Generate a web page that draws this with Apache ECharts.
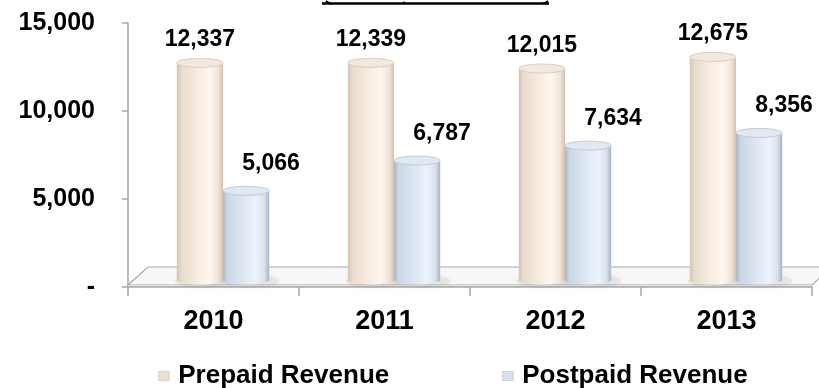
<!DOCTYPE html>
<html>
<head>
<meta charset="utf-8">
<script src="https://cdn.jsdelivr.net/npm/echarts@6/dist/echarts.min.js"></script>
<style>
  html, body { margin: 0; padding: 0; background: #ffffff; }
  #chart { width: 819px; height: 388px; }
</style>
</head>
<body>
<div id="chart"></div>
<script>
// Revenue by year, prepaid vs postpaid
const categories = ['2010', '2011', '2012', '2013'];
const prepaidRevenue = [12337, 12339, 12015, 12675];
const postpaidRevenue = [5066, 6787, 7634, 8356];
const seriesNames = ['Prepaid Revenue', 'Postpaid Revenue'];
const yMax = 15000;
const yStep = 5000;

const FONT = '"Liberation Sans", Arial, sans-serif';
// Plot area
const GRID = { left: 128, right: 7, top: 23, bottom: 101 };
// Perspective offset of the bars (they stand mid-way into the floor)
const DEPTH_X = 9.5;
const DEPTH_Y = -7;

const palettes = [
  { // prepaid: warm cream cylinders
    body: [[0, '#d6c3b2'], [0.1, '#eadbcc'], [0.45, '#f7ece1'], [0.72, '#fdf7f0'], [0.9, '#efe3d6'], [1, '#d2c1b1']],
    cap: '#f3e8de', capEdge: '#dccfc2', legend: '#ecdfd1'
  },
  { // postpaid: pale blue cylinders
    body: [[0, '#a9b7c7'], [0.1, '#cbd7e5'], [0.45, '#dde7f3'], [0.72, '#edf3fa'], [0.9, '#d7e1ec'], [1, '#a8b4c3']],
    cap: '#e0e8f1', capEdge: '#c0ccd8', legend: '#d7e1ec'
  }
];
// label offsets relative to the cylinder top [dx, dy]
const labelOffsets = [[0, -23], [25, -27]];

function fmt(v) {
  return v === 0 ? '-' : v.toLocaleString('en-US');
}

function renderCylinder(params, api) {
  const s = params.seriesIndex;
  const idx = api.value(0);
  const val = api.value(1);
  const top = api.coord([idx, val]);
  const base = api.coord([idx, 0]);
  const band = api.size([1, 0])[0];
  const w = band * 0.27;
  const side = s === 0 ? -0.5 : 0.5;
  const cx = top[0] + DEPTH_X + side * w;
  const x0 = cx - w / 2;
  const x1 = cx + w / 2;
  const yT = top[1] + DEPTH_Y;
  const yB = base[1] + DEPTH_Y;
  const rx = w / 2;
  const ry = 4.5;
  const pal = palettes[s];
  const body = 'M' + x0 + ' ' + yT + ' L' + x0 + ' ' + yB +
    ' A' + rx + ' ' + ry + ' 0 0 0 ' + x1 + ' ' + yB +
    ' L' + x1 + ' ' + yT + ' Z';
  const off = labelOffsets[s];
  return {
    type: 'group',
    children: [
      {
        type: 'ellipse',
        z2: -10,
        shape: { cx: cx + 4, cy: yB + 1, rx: rx + 6, ry: ry + 2.5 },
        style: { fill: 'rgba(160,160,160,0.16)', shadowBlur: 7, shadowColor: 'rgba(130,130,130,0.35)' }
      },
      {
        type: 'path',
        shape: { pathData: body },
        style: {
          fill: new echarts.graphic.LinearGradient(0, 0, 1, 0,
            pal.body.map(function (p) { return { offset: p[0], color: p[1] }; })),
          stroke: null
        }
      },
      {
        type: 'ellipse',
        shape: { cx: cx, cy: yT, rx: rx, ry: ry },
        style: { fill: pal.cap, stroke: pal.capEdge, lineWidth: 1 }
      },
      {
        type: 'text',
        z2: 20,
        style: {
          text: fmt(val),
          x: cx + off[0],
          y: yT + off[1],
          align: 'center',
          verticalAlign: 'middle',
          font: 'bold 23px ' + FONT,
          fill: '#000000'
        }
      }
    ]
  };
}

const chart = echarts.init(document.getElementById('chart'), null, { renderer: 'canvas' });

const W = 819;
const floorL = GRID.left;
const floorR = W - GRID.right;
const floorFront = 388 - GRID.bottom;

const legendBase = {
  orient: 'horizontal',
  top: 358,
  itemWidth: 11,
  itemHeight: 9,
  icon: 'rect',
  selectedMode: false,
  textStyle: { fontFamily: FONT, fontWeight: 'bold', fontSize: 26, color: '#000', padding: [0, 0, 0, 4] }
};

chart.setOption({
  animation: false,
  backgroundColor: '#ffffff',
  grid: { left: GRID.left, right: GRID.right, top: GRID.top, bottom: GRID.bottom, containLabel: false },
  legend: [
    Object.assign({}, legendBase, {
      left: 153,
      data: [{ name: seriesNames[0], itemStyle: { color: palettes[0].legend, borderColor: '#c9b7a6', borderWidth: 0.5 } }]
    }),
    Object.assign({}, legendBase, {
      left: 497,
      data: [{ name: seriesNames[1], itemStyle: { color: palettes[1].legend, borderColor: '#a9b6c5', borderWidth: 0.5 } }]
    })
  ],
  xAxis: {
    type: 'category',
    data: categories,
    boundaryGap: true,
    axisLine: { show: true, lineStyle: { color: '#a6a6a6', width: 1.5 } },
    axisTick: { show: true, length: 9, alignWithLabel: false, lineStyle: { color: '#a6a6a6', width: 1.5 } },
    axisLabel: { fontFamily: FONT, fontWeight: 'bold', fontSize: 27, color: '#000', margin: 21 },
    splitLine: { show: false },
    z: 3
  },
  yAxis: {
    type: 'value',
    min: 0,
    max: yMax,
    interval: yStep,
    axisLine: { show: true, lineStyle: { color: '#a6a6a6', width: 1.5 } },
    axisTick: { show: true, length: 6, lineStyle: { color: '#a6a6a6', width: 1.5 } },
    axisLabel: { fontFamily: FONT, fontWeight: 'bold', fontSize: 25, color: '#000', margin: 33, formatter: fmt },
    splitLine: { show: false }
  },
  graphic: [
    // floor slab: top face, then front face
    {
      type: 'polygon', z: 1,
      shape: { points: [[floorL, floorFront - 2], [floorR, floorFront - 2], [floorR + 20, floorFront - 20], [floorL + 20, floorFront - 20]] },
      style: { fill: '#f7f7f7', stroke: '#a9a9a9', lineWidth: 1.2 }
    },
    {
      type: 'rect', z: 1,
      shape: { x: floorL, y: floorFront - 2, width: floorR - floorL, height: 2 },
      style: { fill: '#e2e2e2', stroke: null }
    },
    // underline of the heading above the plot
    {
      type: 'polyline', z: 5,
      shape: { points: [[322, 3.5], [549, 3.5]] },
      style: { stroke: '#000', lineWidth: 2.5, fill: null }
    },
    {
      type: 'polyline', z: 5,
      shape: { points: [[326, 1], [329, 3], [332, 3.5]] },
      style: { stroke: '#000', lineWidth: 2, fill: null }
    },
    {
      type: 'polyline', z: 5,
      shape: { points: [[404, 1.5], [404, 3]] },
      style: { stroke: '#000', lineWidth: 1.5, fill: null }
    },
    {
      type: 'polyline', z: 5,
      shape: { points: [[542, 3.5], [545, 3], [548, 1]] },
      style: { stroke: '#000', lineWidth: 2, fill: null }
    }
  ],
  series: [
    {
      name: seriesNames[0],
      type: 'custom',
      renderItem: renderCylinder,
      itemStyle: { color: palettes[0].legend },
      encode: { x: 0, y: 1 },
      data: prepaidRevenue.map(function (v, i) { return [i, v]; }),
      z: 2
    },
    {
      name: seriesNames[1],
      type: 'custom',
      renderItem: renderCylinder,
      itemStyle: { color: palettes[1].legend },
      encode: { x: 0, y: 1 },
      data: postpaidRevenue.map(function (v, i) { return [i, v]; }),
      z: 2
    }
  ]
});
</script>
</body>
</html>
